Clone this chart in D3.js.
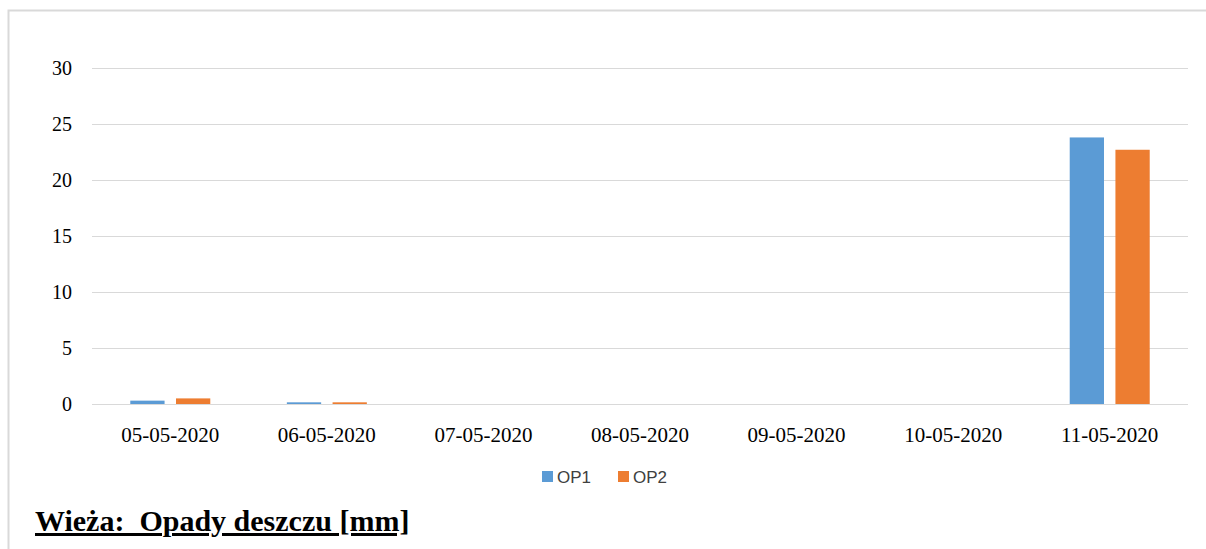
<!DOCTYPE html>
<meta charset="utf-8">
<script src="https://d3js.org/d3.v7.min.js"></script>
<style>body{margin:0;background:#fff}</style>
<body>
<svg width="1206" height="549"></svg>
<script>
var dates = ['05-05-2020','06-05-2020','07-05-2020','08-05-2020','09-05-2020','10-05-2020','11-05-2020'];
var op1 = [0.3, 0.15, 0, 0, 0, 0, 23.8];
var op2 = [0.5, 0.15, 0, 0, 0, 0, 22.7];
var series = ['OP1', 'OP2'], colors = ['#5b9bd5', '#ed7d31'];
var yTicks = [0, 5, 10, 15, 20, 25, 30];

var svg = d3.select('svg');
// outer frame
svg.append('path').attr('d', 'M8.5,549V10.5H1206').attr('fill', 'none').attr('stroke', '#d9d9d9').attr('stroke-width', 2);

var x = d3.scaleBand().domain(dates).range([92, 1188]);
var y = d3.scaleLinear().domain([0, 30]).range([404, 68]);
var x1 = d3.scaleBand().domain(series).range([x.bandwidth() / 2 - 40, x.bandwidth() / 2 + 40]).paddingInner(0.25);

svg.append('g').selectAll('line').data(yTicks).enter().append('line')
  .attr('x1', 92).attr('x2', 1188)
  .attr('y1', function(d){ return Math.round(y(d)) + 0.5; })
  .attr('y2', function(d){ return Math.round(y(d)) + 0.5; })
  .attr('stroke', '#d9d9d9');

svg.append('g').selectAll('text').data(yTicks).enter().append('text')
  .attr('x', 72).attr('y', function(d){ return y(d) + 7; })
  .attr('text-anchor', 'end').attr('font-family', 'Liberation Serif').attr('font-size', 20)
  .text(function(d){ return d; });

var data = [op1, op2];
var g = svg.append('g');
dates.forEach(function(dt, i){
  series.forEach(function(s, k){
    var v = data[k][i];
    if (v <= 0) return;
    g.append('rect').attr('x', x(dt) + x1(s)).attr('width', x1.bandwidth())
      .attr('y', y(v)).attr('height', Math.max(404 - y(v), 1.5)).attr('fill', colors[k]);
  });
});

svg.append('g').selectAll('text').data(dates).enter().append('text')
  .attr('x', function(d){ return x(d) + x.bandwidth() / 2; }).attr('y', 442)
  .attr('text-anchor', 'middle').attr('font-family', 'Liberation Serif').attr('font-size', 21)
  .text(function(d){ return d; });

var lg = svg.append('g');
series.forEach(function(s, k){
  var lx = 542 + k * 76;
  lg.append('rect').attr('x', lx).attr('y', 471).attr('width', 11).attr('height', 11).attr('fill', colors[k]);
  lg.append('text').attr('x', lx + 15).attr('y', 483).attr('font-family', 'Liberation Sans').attr('font-size', 17).attr('fill', '#404040').text(s);
});

svg.append('text').attr('x', 35).attr('y', 531).attr('font-family', 'Liberation Serif').attr('font-weight', 'bold')
  .attr('font-size', 30).attr('text-decoration', 'underline').attr('xml:space', 'preserve').style('white-space', 'pre')
  .text('Wieża:  Opady deszczu [mm]');
</script>
